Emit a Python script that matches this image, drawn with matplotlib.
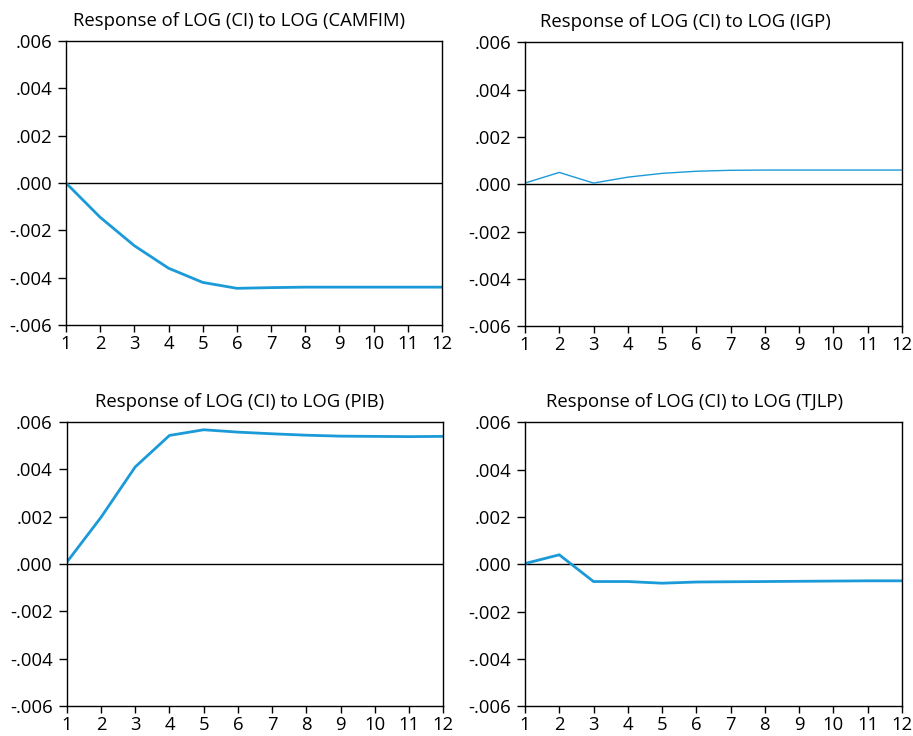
import matplotlib
matplotlib.use("Agg")
from matplotlib import pyplot as plt
from matplotlib.ticker import FuncFormatter

plt.rcParams['font.family'] = ['Open Sans', 'DejaVu Sans']

# periodos
periods = list(range(1, 13))

# respostas de LOG(CI)
camfim = [0.0, -0.00145, -0.00265, -0.0036, -0.0042, -0.00445,
          -0.00442, -0.0044, -0.0044, -0.0044, -0.0044, -0.0044]
igp = [0.00005, 0.0005, 0.00005, 0.0003, 0.00046, 0.00055,
       0.00059, 0.0006, 0.0006, 0.0006, 0.0006, 0.0006]
pib = [0.00007, 0.00197, 0.0041, 0.00543, 0.00567, 0.00557,
       0.0055, 0.00544, 0.0054, 0.00539, 0.00538, 0.00539]
tjlp = [0.00003, 0.0004, -0.00073, -0.00073, -0.0008, -0.00075,
        -0.00074, -0.00073, -0.00072, -0.00071, -0.0007, -0.0007]

titles = ["Response of LOG (CI) to LOG (CAMFIM)",
          "Response of LOG (CI) to LOG (IGP)",
          "Response of LOG (CI) to LOG (PIB)",
          "Response of LOG (CI) to LOG (TJLP)"]
series = [camfim, igp, pib, tjlp]
widths = [2.0, 1.0, 2.0, 2.0]

yticks = [-0.006, -0.004, -0.002, 0.0, 0.002, 0.004, 0.006]

# posicao dos eixos [left, bottom, width, height] e x do titulo
boxes = [[0.0723, 0.5584, 0.4118, 0.3859],
         [0.5750, 0.5567, 0.4130, 0.3859],
         [0.0731, 0.0408, 0.4125, 0.3859],
         [0.5750, 0.0404, 0.4130, 0.3859]]
title_x = [0.46, 0.426, 0.46, 0.45]

blue = '#1b9ad8'


def fmt(v, pos):
    s = "%.3f" % v
    if s.startswith("-0."):
        return "-" + s[2:]
    if s.startswith("0."):
        return s[1:]
    return s


fig = plt.figure(figsize=(9.13, 7.36), dpi=100)

for i in range(4):
    ax = fig.add_axes(boxes[i])
    ax.axhline(0, color='black', lw=1.0, zorder=1)
    ax.plot(periods, series[i], color=blue, lw=widths[i], zorder=2)
    ax.set_xlim(1, 12)
    ax.set_ylim(-0.006, 0.006)
    ax.set_xticks(periods)
    ax.set_yticks(yticks)
    ax.yaxis.set_major_formatter(FuncFormatter(fmt))
    ax.tick_params(axis='both', labelsize=13.3, length=5, width=1,
                   direction='out', colors='black')
    ax.tick_params(axis='y', length=6, pad=4)
    ax.tick_params(axis='x', pad=2)
    for sp in ax.spines.values():
        sp.set_linewidth(1.0)
    ax.set_title(titles[i], fontsize=13.3, x=title_x[i], pad=11)

fig.savefig('out.png', dpi=100)
